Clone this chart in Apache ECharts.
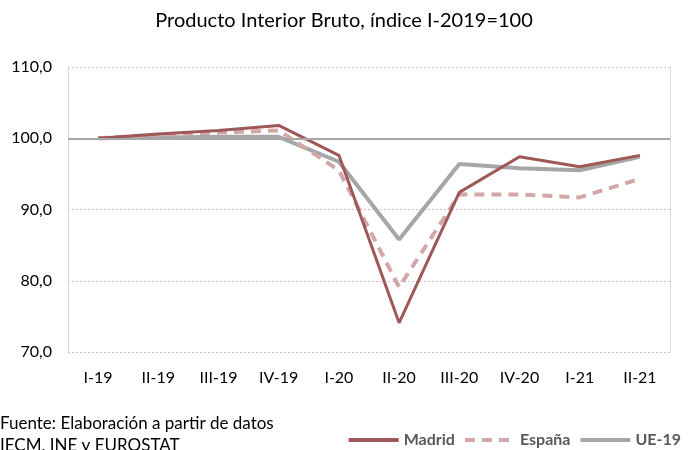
<!DOCTYPE html>
<html>
<head>
<meta charset="utf-8">
<script src="https://cdn.jsdelivr.net/npm/echarts@6/dist/echarts.min.js"></script>
<style>
  html, body { margin: 0; padding: 0; background: #fff; }
  #main { width: 688px; height: 450px; }
</style>
</head>
<body>
<div id="main"></div>
<script>
// quarters
const categories = ['I-19', 'II-19', 'III-19', 'IV-19', 'I-20', 'II-20', 'III-20', 'IV-20', 'I-21', 'II-21'];
// PIB index, I-2019 = 100
const madrid = [100.0, 100.6, 101.1, 101.8, 97.6, 74.1, 92.4, 97.4, 96.0, 97.6];
const espana = [100.0, 100.5, 100.8, 101.1, 95.5, 79.1, 92.1, 92.1, 91.7, 94.3];
const ue19 = [100.0, 100.1, 100.2, 100.2, 96.7, 85.8, 96.4, 95.8, 95.5, 97.4];

const font = 'Lato, "Noto Sans", sans-serif';

const chart = echarts.init(document.getElementById('main'));
chart.setOption({
    animation: false,
    title: {
        text: 'Producto Interior Bruto, índice I-2019=100',
        left: 'center',
        top: 6,
        textStyle: { fontFamily: font, fontSize: 20, fontWeight: 'normal', color: '#000' }
    },
    grid: { left: 68, right: 18, top: 67, bottom: 98 },
    xAxis: {
        type: 'category',
        data: categories,
        boundaryGap: true,
        axisLine: { show: false },
        axisTick: { show: false },
        axisLabel: { fontFamily: font, fontSize: 16, color: '#000', margin: 18 }
    },
    yAxis: [{
        type: 'value',
        min: 70,
        max: 110,
        interval: 10,
        axisLine: { show: true, lineStyle: { color: '#d9d9d9', width: 1 } },
        axisTick: { show: false },
        axisLabel: {
            fontFamily: font, fontSize: 16, color: '#000', margin: 16,
            formatter: v => v.toFixed(1).replace('.', ',')
        },
        splitLine: { lineStyle: { color: '#dcbcbc', type: [2, 2], width: 1 } }
    }, {
        type: 'value',
        position: 'right',
        min: 70,
        max: 110,
        interval: 10,
        axisLine: { show: true, lineStyle: { color: '#d9d9d9', width: 1 } },
        axisTick: { show: false },
        axisLabel: { show: false },
        splitLine: { show: false }
    }],
    legend: {
        right: 2,
        top: 427,
        itemWidth: 50,
        itemHeight: 12,
        itemGap: 8,
        itemStyle: { opacity: 0 },
        lineStyle: { width: 4 },
        textStyle: { fontFamily: font, fontSize: 16, fontWeight: 'bold', color: '#595959' },
        data: ['Madrid', 'España', 'UE-19']
    },
    graphic: [{
        type: 'text',
        left: 0,
        top: 413,
        style: {
            text: 'Fuente: Elaboración a partir de datos\nIECM, INE y EUROSTAT',
            font: '17px ' + font,
            fill: '#000',
            lineHeight: 22
        }
    }],
    series: [{
        name: 'UE-19',
        type: 'line',
        data: ue19,
        symbol: 'none',
        z: 2,
        lineStyle: { color: '#a6a6a6', width: 4 },
        itemStyle: { color: '#a6a6a6' },
        markLine: {
            silent: true,
            symbol: 'none',
            label: { show: false },
            lineStyle: { color: '#a6a6a6', width: 2, type: 'solid' },
            data: [{ yAxis: 100 }]
        }
    }, {
        name: 'España',
        type: 'line',
        data: espana,
        symbol: 'none',
        z: 3,
        lineStyle: { color: '#d3a7a7', width: 4, type: [10, 7] },
        itemStyle: { color: '#d3a7a7' }
    }, {
        name: 'Madrid',
        type: 'line',
        data: madrid,
        symbol: 'none',
        z: 4,
        lineStyle: { color: '#9e5858', width: 3 },
        itemStyle: { color: '#9e5858' }
    }]
});
</script>
</body>
</html>
